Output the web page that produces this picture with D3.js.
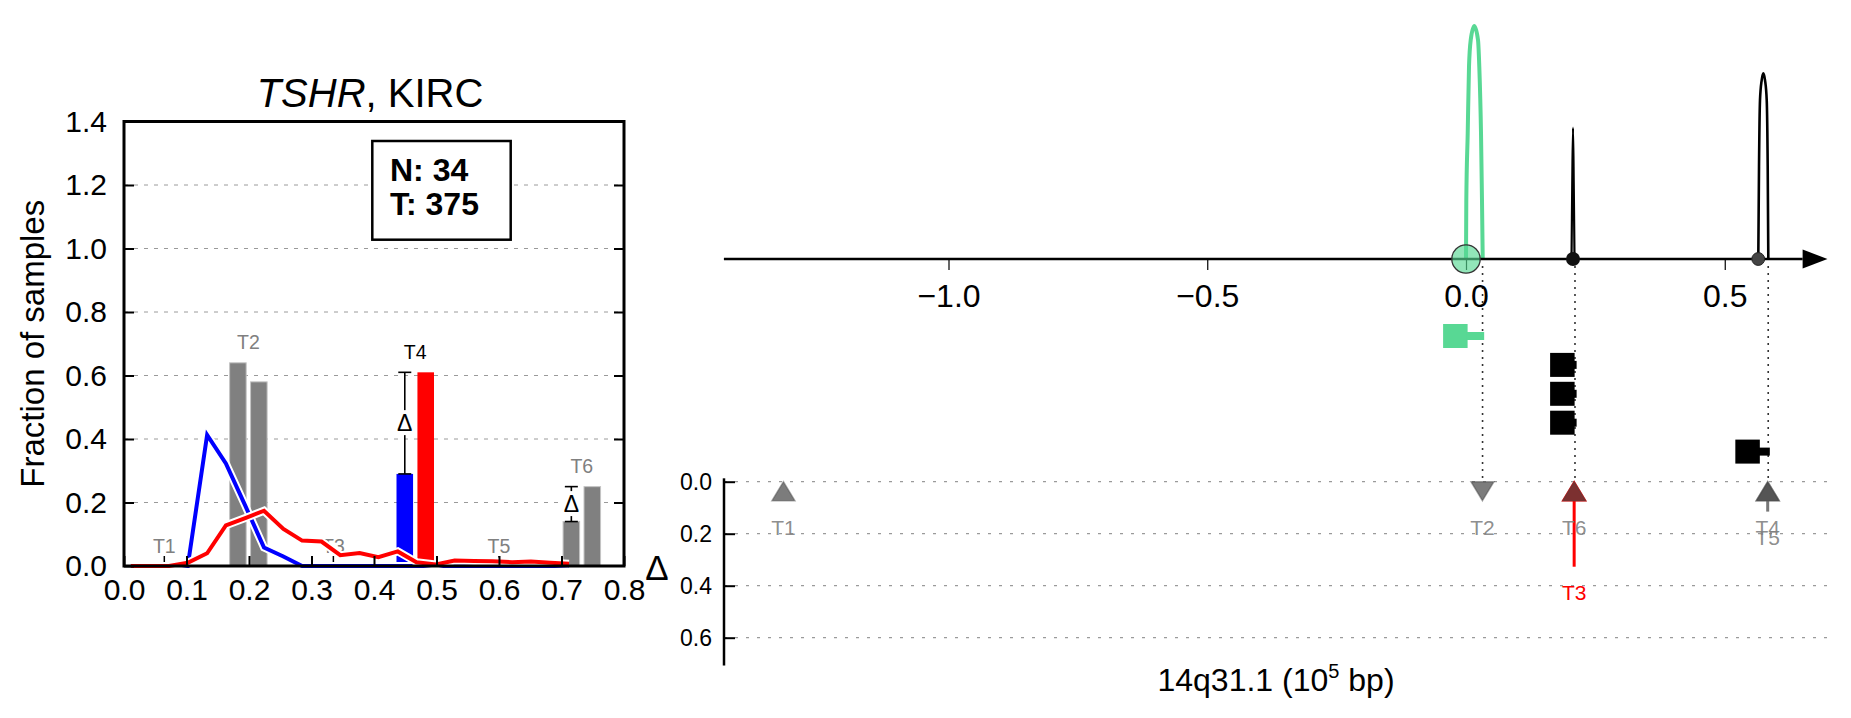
<!DOCTYPE html>
<html><head><meta charset="utf-8">
<script src="https://cdn.jsdelivr.net/npm/d3@7"></script>
<style>
body{margin:0;background:#fff;}
svg{display:block;font-family:"Liberation Sans",Arial,Helvetica,sans-serif;}
</style></head><body>
<svg id="c" width="1851" height="718"></svg>
<script>
// ================= DATA: left panel =================
const binX      = [0.011,0.041,0.072,0.102,0.133,0.163,0.194,0.224,0.255,0.285,0.316,0.346,0.377,0.407,0.438,0.468,0.499,0.529,0.560,0.590,0.621,0.651,0.682,0.712];
const redFrac   = [0,0,0,0.01,0.04,0.128,0.151,0.174,0.117,0.08,0.077,0.034,0.041,0.028,0.046,0.012,0.005,0.017,0.016,0.015,0.012,0.014,0.01,0.007];
const blueFrac  = [0,0,0,0,0.413,0.323,0.19,0.058,0.03,0,0,0,0,0,0,0,0,0,0,0,0,0,0,0];
const barGroups      = ["T2","T4","T6"];
const barGroupX      = [0.199,0.466,0.7325];
const barLeftVals    = [0.64,0.29,0.14];
const barRightVals   = [0.58,0.61,0.25];
const barLeftColors  = ["#808080","#0000ff","#808080"];
const barRightColors = ["#808080","#ff0000","#808080"];
const barLabelColors = ["#808080","#000000","#808080"];
const errorGroups    = ["T4","T6"];
const plainLabels    = ["T1","T3","T5"];
const plainLabelX    = [0.0645,0.335,0.6];
const leftXTicks     = [0,0.1,0.2,0.3,0.4,0.5,0.6,0.7,0.8];
const leftYTicks     = [0,0.2,0.4,0.6,0.8,1.0,1.2,1.4];
const countLines     = ["N: 34","T: 375"];

// ================= DATA: right panel =================
const topTicks     = [-1.0,-0.5,0.0,0.5];
const greenCurveX  = [0.0,0.0006,0.0033,0.0058,0.0091,0.016,0.0232,0.0257,0.029,0.0309,0.0323];
const greenCurveH  = [0.0,0.253,0.54,0.825,0.94,1.0,0.94,0.825,0.54,0.253,0.0];
const spike1X      = [0.2039,0.2052,0.2068,0.2083,0.2097];
const spike1H      = [0.0,0.3,0.5635,0.3,0.0];
const spike2X      = [0.5648,0.5662,0.5681,0.5714,0.5745,0.5778,0.5811,0.583,0.5842];
const spike2H      = [0.0,0.396,0.682,0.768,0.797,0.768,0.682,0.396,0.0];
const dotX         = [0.0,0.2068,0.5647];
const variantX     = [0.032,0.2106,0.584];
const markerDotX   = [0.0,0.2068,0.2068,0.2068,0.5647];
const markerVarX   = [0.032,0.2106,0.2106,0.2106,0.584];
const markerLevel  = [0,1,2,3,4];
const arrowLabels  = ["T1","T2","T3","T6","T4","T5"];
const arrowX       = [-1.319,0.0318,0.209,0.209,0.583,0.583];
const arrowDelta   = [0.06,0.06,0.327,0.06,0.06,0.115];
const arrowDir     = ["up","down","up","up","up","up"];
const deltaTicks   = [0,0.2,0.4,0.6];

// ================= DRAW =================
const svg = d3.select("#c");
svg.append("rect").attr("width",1851).attr("height",718).attr("fill","#fff");
const FONT = '"Liberation Sans",Arial,Helvetica,sans-serif';

// ---------- left panel ----------
const x0 = d3.scaleLinear().domain([0,0.8]).range([124,624]);
const y0 = d3.scaleLinear().domain([0,1.4]).range([566,121.5]);
const L = svg.append("g");

L.append("g").selectAll("line").data(leftYTicks.filter(v=>v>0 && v<1.4)).join("line")
  .attr("x1",x0(0)).attr("x2",x0(0.8)).attr("y1",d=>y0(d)).attr("y2",d=>y0(d))
  .attr("stroke","#9a9a9a").attr("stroke-width",1).attr("stroke-dasharray","4,6");

// bars
const barW = 0.0265, half = 0.01675;
const bars = [];
barGroups.forEach((g,i)=>{
  bars.push({x:barGroupX[i]-half, v:barLeftVals[i], c:barLeftColors[i]});
  bars.push({x:barGroupX[i]+half, v:barRightVals[i], c:barRightColors[i]});
});
L.append("g").selectAll("rect").data(bars).join("rect")
  .attr("x",d=>x0(d.x-barW/2)).attr("width",x0(barW)-x0(0))
  .attr("y",d=>y0(d.v)).attr("height",d=>y0(0)-y0(d.v))
  .attr("fill",d=>d.c).attr("stroke",d=>d.c==="#808080"?"#c4c4c4":"none").attr("stroke-width",1);

// bar group labels
L.append("g").selectAll("text").data(barGroups).join("text")
  .attr("x",(d,i)=>x0(barGroupX[i])).attr("y",(d,i)=>y0(Math.max(barLeftVals[i],barRightVals[i])+0.064))
  .attr("dy","0.35em").attr("text-anchor","middle").attr("font-size",19.5)
  .attr("fill",(d,i)=>barLabelColors[i]).text(d=>d);

// plain labels + marks
L.append("g").selectAll("line").data(plainLabelX).join("line")
  .attr("x1",d=>x0(d)).attr("x2",d=>x0(d)).attr("y1",y0(0)).attr("y2",y0(0)-10)
  .attr("stroke","#000").attr("stroke-width",1.5);
L.append("g").selectAll("text").data(plainLabels).join("text")
  .attr("x",(d,i)=>x0(plainLabelX[i])).attr("y",y0(0.063)).attr("dy","0.35em")
  .attr("text-anchor","middle").attr("font-size",19.5).attr("fill","#808080").text(d=>d);

// error bars with delta
errorGroups.forEach(gname=>{
  const i = barGroups.indexOf(gname);
  const xc = x0(barGroupX[i]-half);
  const lo = Math.min(barLeftVals[i],barRightVals[i]), hi = Math.max(barLeftVals[i],barRightVals[i]);
  const g = L.append("g");
  g.append("line").attr("x1",xc).attr("x2",xc).attr("y1",y0(lo)).attr("y2",y0(hi)).attr("stroke","#000").attr("stroke-width",1.6);
  [lo,hi].forEach(v=>g.append("line").attr("x1",xc-6.5).attr("x2",xc+6.5).attr("y1",y0(v)).attr("y2",y0(v)).attr("stroke","#000").attr("stroke-width",1.6));
  const ym = y0((lo+hi)/2);
  g.append("rect").attr("x",xc-10).attr("y",ym-13).attr("width",20).attr("height",25).attr("fill","#fff");
  g.append("text").attr("x",xc).attr("y",ym).attr("dy","0.36em").attr("text-anchor","middle")
    .attr("font-size",23).attr("fill","#000").text("Δ");
});

// lines with white halo
const lineGen = arr => d3.line().x((d,i)=>x0(binX[i])).y(d=>y0(d)).curve(d3.curveLinear)(arr);
[[blueFrac,"#0000ff"],[redFrac,"#ff0000"]].forEach(([arr,col])=>{
  L.append("path").attr("d",lineGen(arr)).attr("fill","none").attr("stroke","#fff").attr("stroke-width",8).attr("stroke-linejoin","miter");
  L.append("path").attr("d",lineGen(arr)).attr("fill","none").attr("stroke",col).attr("stroke-width",4).attr("stroke-linejoin","miter");
});

// axes
const styleAxis = (g,fs)=>{
  g.attr("font-family",FONT).attr("font-size",fs);
  g.select(".domain").remove();
  g.selectAll(".tick line").attr("stroke","#000").attr("stroke-width",2);
  g.selectAll(".tick text").attr("fill","#000");
};
L.append("g").attr("transform",`translate(0,${y0(0)})`)
  .call(d3.axisBottom(x0).tickValues(leftXTicks).tickSize(-10).tickPadding(13).tickFormat(d3.format(".1f")))
  .call(g=>styleAxis(g,30));
L.append("g").attr("transform",`translate(${x0(0)},0)`)
  .call(d3.axisLeft(y0).tickValues(leftYTicks).tickSize(-10).tickPadding(17).tickFormat(d3.format(".1f")))
  .call(g=>styleAxis(g,30));
L.append("g").attr("transform",`translate(${x0(0.8)},0)`)
  .call(d3.axisRight(y0).tickValues(leftYTicks.filter(v=>v>0&&v<1.4)).tickSize(-10).tickFormat(""))
  .call(g=>styleAxis(g,30));
L.append("rect").attr("x",x0(0)).attr("y",y0(1.4)).attr("width",x0(0.8)-x0(0)).attr("height",y0(0)-y0(1.4))
  .attr("fill","none").attr("stroke","#000").attr("stroke-width",3);

// title
const t = L.append("text").attr("x",(x0(0)+x0(0.8))/2 - 4).attr("y",106.5).attr("text-anchor","middle").attr("font-size",40).attr("fill","#000");
t.append("tspan").attr("font-style","italic").text("TSHR");
t.append("tspan").text(", KIRC");
// y label
L.append("text").attr("transform",`translate(43.5,${(y0(0)+y0(1.4))/2}) rotate(-90)`)
  .attr("text-anchor","middle").attr("font-size",33).attr("fill","#000").text("Fraction of samples");
// counts box
L.append("rect").attr("x",372.3).attr("y",141).attr("width",138.4).attr("height",98.7)
  .attr("fill","#fff").attr("stroke","#000").attr("stroke-width",2.5);
L.append("g").selectAll("text").data(countLines).join("text")
  .attr("x",390).attr("y",(d,i)=>181+i*34).attr("font-size",32).attr("font-weight","bold").attr("fill","#000").text(d=>d);

// ---------- right panel ----------
const xr = d3.scaleLinear().domain([0,0.5]).range([1466,1724.75]);
const yd = d3.scaleLinear().domain([0,1]).range([259,26]);
const yl = d3.scaleLinear().domain([0,0.6]).range([481.7,637.7]);
const lv = d3.scaleLinear().domain([0,4]).range([336,451.6]);
const R = svg.append("g");
const axisStart = -1.434, arrowBase = 0.6505, arrowTip = 0.6985;

// lower panel gridlines
R.append("g").selectAll("line").data(deltaTicks).join("line")
  .attr("x1",724).attr("x2",1830).attr("y1",d=>yl(d)).attr("y2",d=>yl(d))
  .attr("stroke","#9a9a9a").attr("stroke-width",1.2).attr("stroke-dasharray","3,8");

// dotted verticals
R.append("g").selectAll("line").data(variantX).join("line")
  .attr("x1",d=>xr(d)).attr("x2",d=>xr(d)).attr("y1",266).attr("y2",yl(0))
  .attr("stroke","#333").attr("stroke-width",1.6).attr("stroke-dasharray","2,5");

// top axis
R.append("g").attr("transform","translate(0,259)")
  .call(d3.axisBottom(xr).tickValues(topTicks).tickSize(11).tickPadding(14).tickFormat(d3.format(".1f")))
  .call(g=>{styleAxis(g,32); g.selectAll(".tick line").attr("stroke-width",1.2);});

// densities
const dens = (xs,hs)=>d3.line().x((d,i)=>xr(xs[i])).y(d=>yd(d)).curve(d3.curveMonotoneX)(hs);
R.append("path").attr("d",dens(greenCurveX,greenCurveH)).attr("fill","none").attr("stroke","#58d894").attr("stroke-width",4);
R.append("path").attr("d",dens(spike1X,spike1H)).attr("fill","none").attr("stroke","#000").attr("stroke-width",2.2);
R.append("path").attr("d",dens(spike2X,spike2H)).attr("fill","none").attr("stroke","#000").attr("stroke-width",2.6);

// axis line + arrow
R.append("line").attr("x1",xr(axisStart)).attr("x2",xr(arrowBase)).attr("y1",259).attr("y2",259).attr("stroke","#000").attr("stroke-width",2.6);
R.append("path").attr("d",`M${xr(arrowBase)},249.5L${xr(arrowTip)},259L${xr(arrowBase)},268.5Z`).attr("fill","#000");

// dots
R.append("circle").attr("cx",xr(dotX[0])).attr("cy",259).attr("r",14.2)
  .attr("fill","#58d894").attr("fill-opacity",0.65).attr("stroke","#333").attr("stroke-width",1.3);
R.append("circle").attr("cx",xr(dotX[1])).attr("cy",259).attr("r",7).attr("fill","#111");
R.append("circle").attr("cx",xr(dotX[2])).attr("cy",259).attr("r",6.4).attr("fill","#444").attr("stroke","#222").attr("stroke-width",1);

// markers
markerLevel.forEach((lev,i)=>{
  const col = i===0 ? "#58d894" : "#000";
  const right = xr(markerDotX[i])+1.6, yc = lv(lev);
  R.append("rect").attr("x",right-24.5).attr("y",yc-12).attr("width",24.5).attr("height",24).attr("fill",col);
  R.append("rect").attr("x",right-1).attr("y",yc-4).attr("width",Math.max(xr(markerVarX[i])+1.6-right+1,3)).attr("height",8).attr("fill",col);
});

// lower axis
R.append("line").attr("x1",724).attr("x2",724).attr("y1",yl(-0.013)).attr("y2",yl(0.707)).attr("stroke","#000").attr("stroke-width",2.5);
R.append("g").attr("transform","translate(724,0)")
  .call(d3.axisLeft(yl).tickValues(deltaTicks).tickSize(-11).tickPadding(12).tickFormat(d3.format(".1f")))
  .call(g=>styleAxis(g,23));

// arrows
const headLen = 19, headHalf = 11.5;
const order = [2,0,1,3,4,5];
order.forEach(i=>{
  const red = arrowLabels[i]==="T3";
  const col = red ? "#ff0000" : "#444";
  const x = xr(arrowX[i]);
  const g = R.append("g");
  if (arrowDir[i]==="up"){
    const tip = yl(0), base = tip+headLen, tail = yl(arrowDelta[i]);
    if (tail>base) g.append("line").attr("x1",x).attr("x2",x).attr("y1",tail).attr("y2",base)
      .attr("stroke",red?"#ff0000":"#777").attr("stroke-width",3);
    g.append("path").attr("d",`M${x},${tip}L${x+headHalf},${base}L${x-headHalf},${base}Z`)
      .attr("fill",col).attr("fill-opacity",red?1:0.7).attr("stroke",red?"#ff0000":"#444").attr("stroke-opacity",red?1:0.45).attr("stroke-width",1.5);
  } else {
    const top = yl(0), tip = Math.max(yl(arrowDelta[i]), top+headLen);
    g.append("path").attr("d",`M${x},${tip}L${x+headHalf},${top}L${x-headHalf},${top}Z`)
      .attr("fill",col).attr("fill-opacity",0.7).attr("stroke","#444").attr("stroke-opacity",0.45).attr("stroke-width",1.5);
  }
});
R.append("g").selectAll("text").data(arrowLabels).join("text")
  .attr("x",(d,i)=>xr(arrowX[i])).attr("y",(d,i)=>yl(Math.max(arrowDelta[i],0.078)+0.1)).attr("dy","0.35em")
  .attr("text-anchor","middle").attr("font-size",21)
  .attr("fill",d=>d==="T3"?"#ff0000":"#808080").attr("fill-opacity",d=>d==="T3"?1:0.9).text(d=>d);

// labels
R.append("text").attr("x",657).attr("y",580).attr("text-anchor","middle").attr("font-size",35).attr("fill","#000").text("Δ");
const xl = R.append("text").attr("x",1276).attr("y",691).attr("text-anchor","middle").attr("font-size",32).attr("fill","#000");
xl.append("tspan").text("14q31.1 (10");
xl.append("tspan").attr("font-size",20).attr("dy",-13).text("5");
xl.append("tspan").attr("dy",13).text(" bp)");
</script>
</body></html>
